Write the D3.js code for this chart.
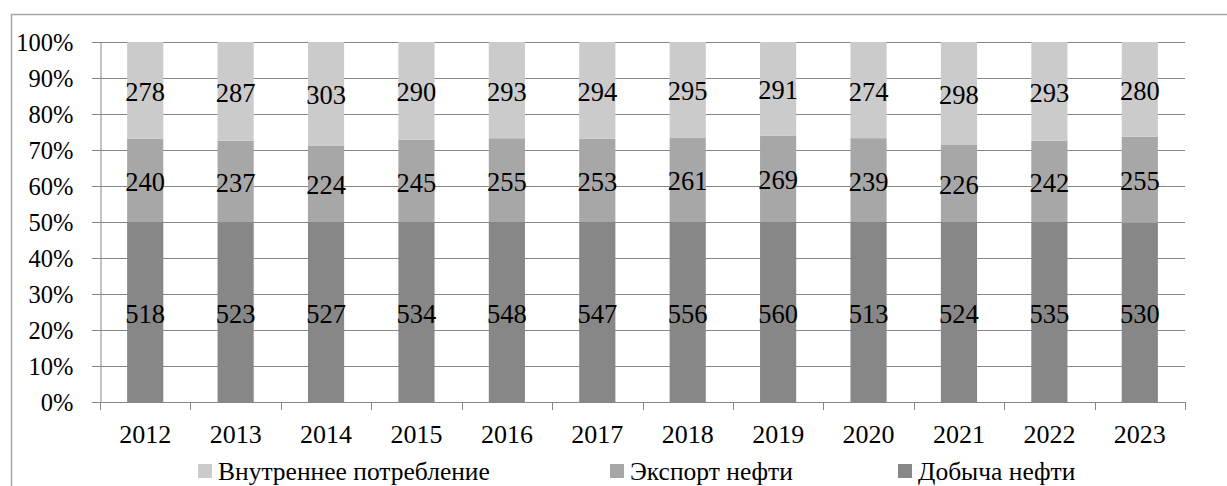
<!DOCTYPE html>
<html>
<head>
<meta charset="utf-8">
<script src="https://cdn.jsdelivr.net/npm/d3@7"></script>
<style>
  html, body { margin: 0; padding: 0; background: #fff; }
  svg { display: block; }
</style>
</head>
<body>
<svg id="chart" width="1227" height="486"></svg>
<script>
// Годы и значения по рядам (млн т)
const years = ["2012","2013","2014","2015","2016","2017","2018","2019","2020","2021","2022","2023"];
const domestic   = [278, 287, 303, 290, 293, 294, 295, 291, 274, 298, 293, 280]; // Внутреннее потребление
const exportOil  = [240, 237, 224, 245, 255, 253, 261, 269, 239, 226, 242, 255]; // Экспорт нефти
const production = [518, 523, 527, 534, 548, 547, 556, 560, 513, 524, 535, 530]; // Добыча нефти
const yTicks = [0, 0.1, 0.2, 0.3, 0.4, 0.5, 0.6, 0.7, 0.8, 0.9, 1.0];

const FONT = "Liberation Serif, Times New Roman, serif";

// Ряды снизу вверх
const series = [
  { key: "production", name: "Добыча нефти", values: production, color: "#878787" },
  { key: "export", name: "Экспорт нефти", values: exportOil, color: "#a7a7a7" },
  { key: "domestic", name: "Внутреннее потребление", values: domestic, color: "#cbcbcb" }
];

const rows = years.map((y, i) => {
  const r = { year: y };
  series.forEach(s => r[s.key] = s.values[i]);
  return r;
});

const svg = d3.select("#chart").attr("font-family", FONT);
const margin = { left: 100, right: 42, top: 42, bottom: 84 };
const W = 1227, H = 486;
const x0 = margin.left, x1 = W - margin.right;
const yTop = margin.top, yBot = H - margin.bottom;

// Внешняя рамка области диаграммы
svg.append("rect")
  .attr("x", 11.5).attr("y", 14.5)
  .attr("width", 1400).attr("height", 700)
  .attr("fill", "none").attr("stroke", "#a6a6a6").attr("stroke-width", 1.5);

const x = d3.scaleBand().domain(years).range([x0, x1]).paddingInner(0.6).paddingOuter(0.3);
const y = d3.scaleLinear().domain([0, 1]).range([yBot, yTop]);

const stack = d3.stack()
  .keys(series.map(s => s.key))
  .offset(d3.stackOffsetExpand);
const stacked = stack(rows);

// Сетка
const gridColor = "#868686";
svg.append("g").selectAll("line").data(yTicks).join("line")
  .attr("x1", x0 - 8).attr("x2", x1)
  .attr("y1", d => Math.round(y(d)) + 0.5).attr("y2", d => Math.round(y(d)) + 0.5)
  .attr("stroke", gridColor).attr("stroke-width", 1);

// Столбцы
const groups = svg.append("g").selectAll("g").data(stacked).join("g")
  .attr("fill", (d, i) => series[i].color);
groups.selectAll("rect").data(d => d).join("rect")
  .attr("x", d => x(d.data.year))
  .attr("width", x.bandwidth())
  .attr("y", d => y(d[1]))
  .attr("height", d => y(d[0]) - y(d[1]));

// Оси
const yAxis = d3.axisLeft(y).tickValues(yTicks).tickFormat(d3.format(".0%")).tickSize(0).tickPadding(27);
const gy = svg.append("g").attr("transform", `translate(${x0 + 0.5},0)`).call(yAxis)
  .attr("font-family", FONT);
gy.select(".domain").attr("stroke", gridColor);
gy.selectAll("text").attr("font-size", 24.5).attr("dy", "0.34em").attr("fill", "#000");

const xAxis = d3.axisBottom(x).tickSize(0).tickPadding(22);
const gx = svg.append("g").attr("transform", `translate(0,${Math.round(yBot) + 0.5})`).call(xAxis)
  .attr("font-family", FONT);
gx.select(".domain").remove();
gx.selectAll("text").attr("font-size", 26).attr("fill", "#000");

// Деления между категориями
const bounds = d3.range(years.length + 1).map(i => x0 + i * x.step());
svg.append("g").selectAll("line").data(bounds).join("line")
  .attr("x1", d => Math.round(d) + 0.5).attr("x2", d => Math.round(d) + 0.5)
  .attr("y1", Math.round(yBot)).attr("y2", Math.round(yBot) + 8)
  .attr("stroke", gridColor);
svg.append("line")
  .attr("x1", x0).attr("x2", x1)
  .attr("y1", Math.round(yBot) + 0.5).attr("y2", Math.round(yBot) + 0.5)
  .attr("stroke", gridColor);

// Подписи значений
groups.each(function(layer, li) {
  d3.select(this).selectAll("text").data(layer).join("text")
    .attr("x", d => x(d.data.year) + x.bandwidth() / 2)
    .attr("y", d => (y(d[0]) + y(d[1])) / 2)
    .attr("dy", "0.4em")
    .attr("text-anchor", "middle")
    .attr("font-size", 26.5)
    .attr("fill", "#000")
    .text(d => d.data[series[li].key]);
});

// Легенда
const legendItems = [series[2], series[1], series[0]];
const legendX = [198, 610, 898];
const leg = svg.append("g").selectAll("g").data(legendItems).join("g")
  .attr("transform", (d, i) => `translate(${legendX[i]},464)`);
leg.append("rect").attr("width", 14).attr("height", 14).attr("fill", d => d.color);
leg.append("text").attr("x", 20).attr("y", 16).attr("font-size", 25.5).attr("fill", "#000").text(d => d.name);
</script>
</body>
</html>
